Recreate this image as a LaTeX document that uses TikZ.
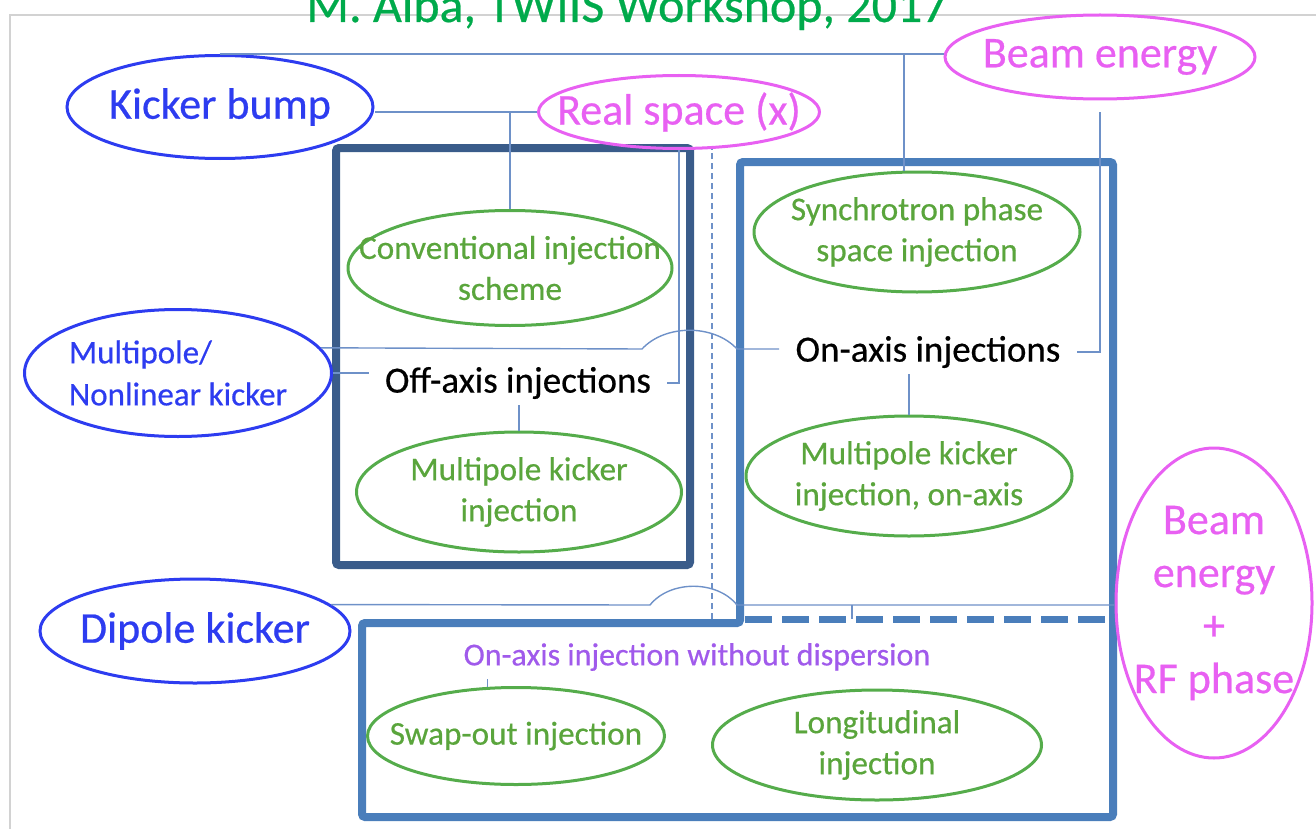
\documentclass[tikz,border=0pt]{standalone}
\usepackage{fontspec}
\setmainfont{Carlito}[FakeBold=0.5]
\usetikzlibrary{shapes.geometric}

\definecolor{kickblue}{RGB}{45,60,240}
\definecolor{parmag}{RGB}{232,96,242}
\definecolor{schgreen}{RGB}{85,172,75}
\definecolor{txtgreen}{RGB}{90,165,60}
\definecolor{titlegreen}{RGB}{0,170,75}
\definecolor{wodpurple}{RGB}{160,90,235}
\definecolor{offblue}{RGB}{58,92,138}
\definecolor{onblue}{RGB}{74,126,187}
\definecolor{wireblue}{RGB}{110,145,200}

\begin{document}
\begin{tikzpicture}[x=0.5pt, y=-0.5pt,
    oval/.style={ellipse, draw, line width=1.5pt, inner xsep=-30pt, inner ysep=-12pt, align=center},
    kicker/.style={oval, draw=kickblue, text=kickblue},
    param/.style={oval, draw=parmag, text=parmag, font=\fontsize{22}{26.5}\selectfont},
    scheme/.style={oval, draw=schgreen, text=txtgreen, font=\fontsize{16.6}{20.5}\selectfont},
    family/.style={font=\fontsize{18.5}{22}\selectfont, inner xsep=8pt, inner ysep=3pt},
    wire/.style={draw=wireblue, line width=0.7pt},
    frame/.style={line width=4pt, rounded corners=1.5pt}
]
    \useasboundingbox (0,0) rectangle (1316,829);
    \draw[gray!35, line width=0.6pt] (10,829) -- (10,15) -- (1316,15);

    \node[text=titlegreen, font=\fontsize{25}{30}\selectfont, anchor=base] (title) at (627,22) {M. Alba, TWIIS Workshop, 2017};

    \draw[frame, offblue] (336,148) rectangle (690,565);
    \draw[frame, onblue] (740,623) -- (740,162) -- (1113,162) -- (1113,817) -- (362,817) -- (362,623) -- cycle;
    \draw[onblue, line width=3.5pt, dash pattern=on 13.5pt off 5pt] (745,619) -- (1113,619);

    \node[kicker, minimum width=153pt, minimum height=51.5pt, font=\fontsize{22}{26}\selectfont] (kb) at (220,107) {Kicker bump};
    \node[kicker, minimum width=153.5pt, minimum height=63.5pt, font=\fontsize{16.5}{21}\selectfont, align=left] (mp) at (178,373) {Multipole/\\Nonlinear kicker};
    \node[kicker, minimum width=155pt, minimum height=52pt, font=\fontsize{22}{26}\selectfont] (dk) at (195,631) {Dipole kicker};

    \node[param, minimum width=140.5pt, minimum height=36.5pt] (rs) at (679,112) {Real space (x)};
    \node[param, minimum width=155pt, minimum height=42pt] (be) at (1100,57) {Beam energy};
    \node[param, minimum width=98pt, minimum height=155pt] (rf) at (1214,603) {Beam\\energy\\+\\RF phase};

    \node[scheme, minimum width=162pt, minimum height=57.5pt] (conv) at (510,268) {Conventional injection\\scheme};
    \node[scheme, minimum width=162.5pt, minimum height=60pt] (mki) at (519,492) {Multipole kicker\\injection};
    \node[scheme, minimum width=163pt, minimum height=60pt] (sync) at (917,232) {Synchrotron phase\\space injection};
    \node[scheme, minimum width=163pt, minimum height=60pt] (mko) at (909,476) {Multipole kicker\\injection, on-axis};
    \node[scheme, minimum width=148.5pt, minimum height=48.5pt] (so) at (516,736) {Swap-out injection};
    \node[scheme, minimum width=164.5pt, minimum height=55pt] (li) at (877,745) {Longitudinal\\injection};

    \node[family] (off) at (518,383) {Off-axis injections};
    \node[family] (on) at (928,352) {On-axis injections};
    \node[text=wodpurple, font=\fontsize{16}{20}\selectfont] (wod) at (697,657) {On-axis injection without dispersion};

    \coordinate (kbtap) at (904,55);
    \coordinate (wodtop) at (712,619);
    \coordinate (rftap) at (852,605);
    \coordinate (j1a) at (642,349);
    \coordinate (j1b) at (737,349);
    \coordinate (j2a) at (650,605);
    \coordinate (j2b) at (737,605);

    \draw[wire] (kb.north) -- (kb.north -| be.west);
    \draw[wire] (kbtap) -- (kbtap |- sync.north);
    \draw[wire] (rs.west) -- (rs.west -| kb.east);
    \draw[wire] (conv.north) -- (conv.north |- rs.west);
    \draw[wire] (rs.south) |- (off.east);
    \draw[wire, dash pattern=on 3pt off 2pt] (wodtop) -- (wodtop |- rs.-47);
    \draw[wire] (mp.east) -- (mp.east -| off.west);
    \draw[wire] (mp.10) -- (j1a) .. controls (665,324) and (714,324) .. (j1b) -- (j1b -| on.west);
    \draw[wire] ([yshift=-6pt]be.south) |- (on.east);
    \draw[wire] (mki.north) -- (mki.north |- off.south);
    \draw[wire] (mko.north) -- (mko.north |- on.south);
    \draw[wire] (dk.11) -- (j2a) .. controls (670,580) and (717,580) .. (j2b) -- (j2b -| rf.west);
    \draw[wire] (rftap) -- (rftap |- wodtop);
    \draw[wire] (so.120) -- ++(0,-8);

\end{tikzpicture}
\end{document}
